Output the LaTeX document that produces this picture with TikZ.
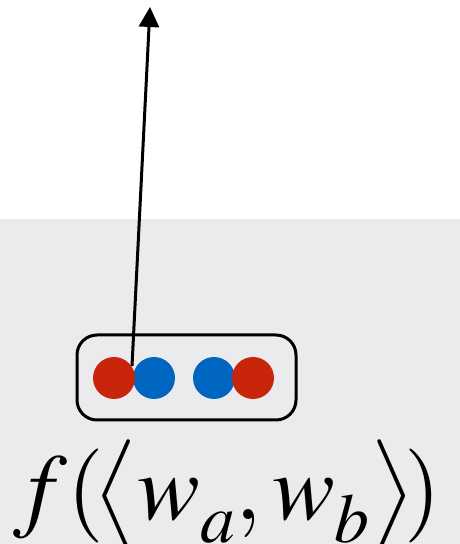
\documentclass[tikz,border=0pt]{standalone}
\usepackage{mathptmx}
\usetikzlibrary{arrows.meta, positioning}
\definecolor{cred}{HTML}{C8250A}
\definecolor{cblue}{HTML}{0066C0}
\definecolor{cpanel}{HTML}{EBEBED}
\newcommand{\lowsub}[1]{_{\lower0.09em\hbox{$\scriptstyle #1$}}}
\tikzset{
  every picture/.style={line width=3pt},
  dot/.style={circle, fill=#1, minimum size=42pt, inner sep=0pt, draw=none},
  pairbox/.style={draw=black, rounded corners=20pt, minimum width=219pt, minimum height=85pt, inner sep=0pt},
  arrow/.style={-{Triangle[length=20pt, width=20pt]}, draw=black, line width=3pt},
  formula/.style={font=\fontsize{94}{94}\selectfont, inner sep=0pt},
}

\begin{document}
\begin{tikzpicture}[x=1pt, y=1pt]
  \useasboundingbox (0, 0) rectangle (460, 544);
  \fill[cpanel] (0, 0) rectangle (460, 325);
  \node[pairbox] (box) at (186.5, 166.5) {};
  \node[dot=cblue] (b1) at (154, 166) {};
  \node[dot=cblue] (b2) at (214, 166) {};
  \node[dot=cred] (r1) at (114, 166) {};
  \node[dot=cred] (r2) at (253, 166) {};
  \coordinate (src) at (132, 178);
  \coordinate (top) at (150, 537);
  \draw[arrow] (src) -- (top);
  \node[formula, anchor=base] (lbl) at (227, 24) {$f(\!\bigl\langle w\lowsub{a}, w\lowsub{b}\bigr\rangle\!)$};
\end{tikzpicture}
\end{document}
